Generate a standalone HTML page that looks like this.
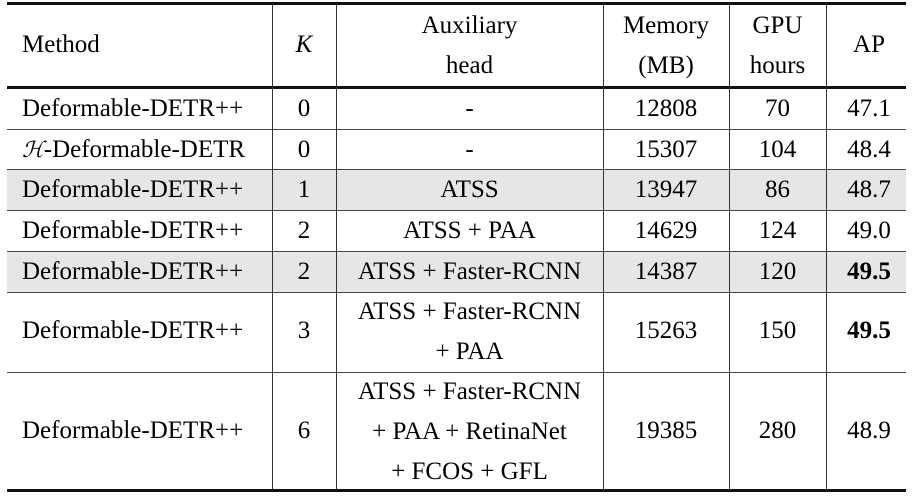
<!DOCTYPE html>
<html><head><meta charset="utf-8"><style>
body{margin:0;width:912px;height:497px;background:#fff;position:relative;overflow:hidden;font-family:"Liberation Serif",serif;font-size:25px;color:#000}
.h{position:absolute;left:7px;width:899px;background:#111}
.v{position:absolute;width:1px;background:#333}
.g{position:absolute;left:7px;width:899px;background:#e6e6e6}
.t{position:absolute;text-align:center;line-height:40px;white-space:nowrap}
</style></head><body>
<div class="g" style="top:170px;height:40px"></div>
<div class="g" style="top:252px;height:40px"></div>
<div class="h" style="top:2px;height:3px"></div>
<div class="h" style="top:86px;height:3px"></div>
<div class="h" style="top:129px;height:1px;background:#444"></div>
<div class="h" style="top:169px;height:1px;background:#444"></div>
<div class="h" style="top:210px;height:1px;background:#444"></div>
<div class="h" style="top:251px;height:1px;background:#444"></div>
<div class="h" style="top:292px;height:1px;background:#444"></div>
<div class="h" style="top:372px;height:1px;background:#444"></div>
<div class="h" style="top:489px;height:3px"></div>
<div class="v" style="left:272px;top:5px;height:484px"></div>
<div class="v" style="left:336px;top:5px;height:484px"></div>
<div class="v" style="left:603px;top:5px;height:484px"></div>
<div class="v" style="left:729px;top:5px;height:484px"></div>
<div class="v" style="left:826px;top:5px;height:484px"></div>

<div class="t" style="left:22px;top:25px">Method</div>
<div class="t" style="left:272px;width:64px;top:25px;font-style:italic">K</div>
<div class="t" style="left:336px;width:267px;top:6px">Auxiliary<br>head</div>
<div class="t" style="left:603px;width:126px;top:6px">Memory<br>(MB)</div>
<div class="t" style="left:729px;width:97px;top:6px">GPU<br>hours</div>
<div class="t" style="left:826px;width:86px;top:25px">AP</div>

<div class="t" style="left:22px;top:89px">Deformable-DETR++</div>
<div class="t" style="left:272px;width:64px;top:89px">0</div>
<div class="t" style="left:336px;width:267px;top:89px">-</div>
<div class="t" style="left:603px;width:126px;top:89px">12808</div>
<div class="t" style="left:729px;width:97px;top:89px">70</div>
<div class="t" style="left:826px;width:86px;top:89px">47.1</div>

<div class="t" style="left:22px;top:130px"><i style="font-family:'DejaVu Serif',serif;font-size:22px">ℋ</i>-Deformable-DETR</div>
<div class="t" style="left:272px;width:64px;top:130px">0</div>
<div class="t" style="left:336px;width:267px;top:130px">-</div>
<div class="t" style="left:603px;width:126px;top:130px">15307</div>
<div class="t" style="left:729px;width:97px;top:130px">104</div>
<div class="t" style="left:826px;width:86px;top:130px">48.4</div>

<div class="t" style="left:22px;top:170px">Deformable-DETR++</div>
<div class="t" style="left:272px;width:64px;top:170px">1</div>
<div class="t" style="left:336px;width:267px;top:170px">ATSS</div>
<div class="t" style="left:603px;width:126px;top:170px">13947</div>
<div class="t" style="left:729px;width:97px;top:170px">86</div>
<div class="t" style="left:826px;width:86px;top:170px">48.7</div>

<div class="t" style="left:22px;top:211px">Deformable-DETR++</div>
<div class="t" style="left:272px;width:64px;top:211px">2</div>
<div class="t" style="left:336px;width:267px;top:211px">ATSS + PAA</div>
<div class="t" style="left:603px;width:126px;top:211px">14629</div>
<div class="t" style="left:729px;width:97px;top:211px">124</div>
<div class="t" style="left:826px;width:86px;top:211px">49.0</div>

<div class="t" style="left:22px;top:252px">Deformable-DETR++</div>
<div class="t" style="left:272px;width:64px;top:252px">2</div>
<div class="t" style="left:336px;width:267px;top:252px">ATSS + Faster-RCNN</div>
<div class="t" style="left:603px;width:126px;top:252px">14387</div>
<div class="t" style="left:729px;width:97px;top:252px">120</div>
<div class="t" style="left:826px;width:86px;top:252px;font-weight:bold">49.5</div>

<div class="t" style="left:22px;top:311px">Deformable-DETR++</div>
<div class="t" style="left:272px;width:64px;top:311px">3</div>
<div class="t" style="left:336px;width:267px;top:292px">ATSS + Faster-RCNN<br>+ PAA</div>
<div class="t" style="left:603px;width:126px;top:311px">15263</div>
<div class="t" style="left:729px;width:97px;top:311px">150</div>
<div class="t" style="left:826px;width:86px;top:311px;font-weight:bold">49.5</div>

<div class="t" style="left:22px;top:411px">Deformable-DETR++</div>
<div class="t" style="left:272px;width:64px;top:411px">6</div>
<div class="t" style="left:336px;width:267px;top:372px">ATSS + Faster-RCNN<br>+ PAA + RetinaNet<br>+ FCOS + GFL</div>
<div class="t" style="left:603px;width:126px;top:411px">19385</div>
<div class="t" style="left:729px;width:97px;top:411px">280</div>
<div class="t" style="left:826px;width:86px;top:411px">48.9</div>
</body></html>
